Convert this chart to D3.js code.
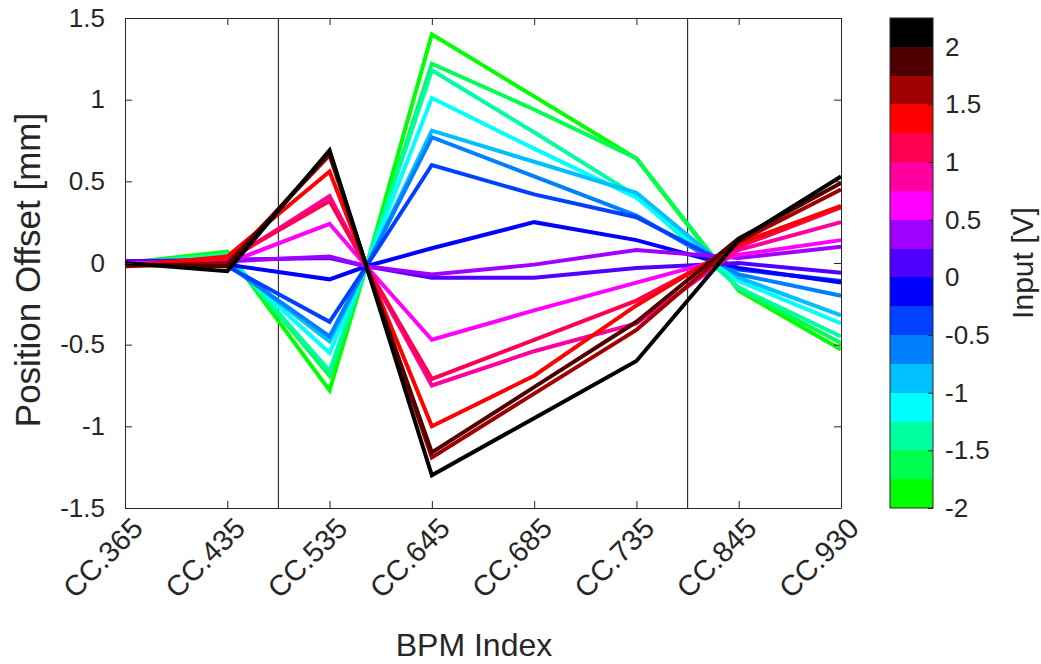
<!DOCTYPE html>
<html>
<head>
<meta charset="utf-8">
<script src="https://cdn.jsdelivr.net/npm/d3@7"></script>
<style>
  html, body { margin: 0; padding: 0; background: #fff; }
  svg { display: block; }
  text { font-family: "Liberation Sans", Arial, Helvetica, sans-serif; fill: #262626; }
</style>
</head>
<body>
<svg id="chart" width="1041" height="664"></svg>
<script>
// ---------------- data ----------------
const categories = ["CC.365", "CC.435", "CC.535", "CC.645", "CC.685", "CC.735", "CC.845", "CC.930"];
const tickPositions = [1, 2, 3, 4, 5, 6, 7, 8];
// sample positions of every trace (3.36 = unlabelled reference BPM where all traces are zeroed)
const xPositions = [1, 2, 3, 3.36, 4, 5, 6, 7, 8];
const separators = [2.5, 6.5];
const yTicks = [-1.5, -1, -0.5, 0, 0.5, 1, 1.5];
const cbTicks = [-2, -1.5, -1, -0.5, 0, 0.5, 1, 1.5, 2];
const inputs = [-2, -1.75, -1.5, -1.25, -1, -0.75, -0.5, -0.25, 0, 0.25, 0.5, 0.75, 1, 1.25, 1.5, 1.75, 2];
const cmapColors = ["#00ff00", "#00ff50", "#00ffa0", "#00ffff", "#00c0ff", "#0080ff", "#0040ff", "#0000ff",
                    "#5000ff", "#a000ff", "#ff00ff", "#ff00a0", "#ff0050", "#ff0000", "#a00000", "#500000", "#000000"];

const vM200 = [0.00, 0.07, -0.78, -0.02, 1.40, 1.02, 0.64, -0.17, -0.53];
const vM175 = [-0.01, 0.06, -0.69, -0.02, 1.22, 0.94, 0.64, -0.16, -0.49];
const vM150 = [0.00, 0.05, -0.66, -0.02, 1.18, 0.80, 0.41, -0.15, -0.45];
const vM125 = [0.01, 0.02, -0.55, -0.02, 1.01, 0.70, 0.40, -0.11, -0.37];
const vM100 = [0.01, 0.00, -0.48, -0.02, 0.81, 0.62, 0.43, -0.09, -0.32];
const vM075 = [0.00, -0.01, -0.45, -0.02, 0.77, 0.53, 0.29, -0.07, -0.20];
const vM050 = [0.00, -0.02, -0.36, -0.02, 0.60, 0.42, 0.28, -0.04, -0.11];
const vM025 = [0.01, -0.01, -0.10, -0.02, 0.09, 0.25, 0.14, -0.03, -0.12];
const vP000 = [0.01, 0.02, 0.03, -0.02, -0.09, -0.09, -0.03, 0.00, -0.06];
const vP025 = [0.00, 0.01, 0.04, -0.02, -0.07, -0.01, 0.08, 0.03, 0.10];
const vP050 = [0.00, 0.00, 0.24, -0.02, -0.47, -0.29, -0.12, 0.05, 0.14];
const vP075 = [-0.01, 0.01, 0.41, -0.02, -0.75, -0.54, -0.37, 0.08, 0.25];
const vP100 = [-0.01, 0.02, 0.38, -0.02, -0.71, -0.47, -0.23, 0.10, 0.34];
const vP125 = [-0.02, 0.04, 0.56, -0.02, -1.00, -0.69, -0.26, 0.12, 0.35];
const vP150 = [-0.02, 0.00, 0.66, -0.02, -1.19, -0.80, -0.41, 0.13, 0.45];
const vP175 = [-0.01, -0.02, 0.68, -0.02, -1.16, -0.76, -0.36, 0.15, 0.49];
const vP200 = [0.00, -0.05, 0.69, -0.02, -1.30, -0.95, -0.60, 0.14, 0.53];
const seriesValues = [vM200, vM175, vM150, vM125, vM100, vM075, vM050, vM025, vP000,
                      vP025, vP050, vP075, vP100, vP125, vP150, vP175, vP200];

// ---------------- layout ----------------
const svg = d3.select("#chart");
const M = { left: 125, right: 841, top: 18, bottom: 508 };
const CB = { left: 890, right: 933, top: 18, bottom: 508 };
const ink = "#262626";
const fontFam = '"Liberation Sans", Arial, Helvetica, sans-serif';
const fmt = d => String(d);

const x = d3.scaleLinear().domain([1, 8]).range([M.left, M.right]);
const y = d3.scaleLinear().domain([-1.5, 1.5]).range([M.bottom, M.top]);
const color = d3.scaleQuantize().domain([-2.125, 2.125]).range(cmapColors);
const cbY = d3.scaleLinear().domain([-2, 2.25]).range([CB.bottom, CB.top]);

// separators
svg.append("g").selectAll("line").data(separators).join("line")
  .attr("x1", d => x(d)).attr("x2", d => x(d))
  .attr("y1", M.top).attr("y2", M.bottom)
  .attr("stroke", "#333").attr("stroke-width", 1.2);

// traces
const line = d3.line().x((d, i) => x(xPositions[i])).y(d => y(d));
svg.append("g").selectAll("path").data(inputs).join("path")
  .attr("d", (v, i) => line(seriesValues[i]))
  .attr("fill", "none")
  .attr("stroke", v => color(v))
  .attr("stroke-width", 4)
  .attr("stroke-linejoin", "miter");

// axes
const fs = 26;
const yAxis = svg.append("g").attr("transform", `translate(${M.left},0)`)
  .call(d3.axisLeft(y).tickValues(yTicks).tickFormat(fmt).tickSizeInner(-7).tickSizeOuter(0).tickPadding(20));
const yAxisR = svg.append("g").attr("transform", `translate(${M.right},0)`)
  .call(d3.axisRight(y).tickValues(yTicks).tickFormat("").tickSizeInner(-7).tickSizeOuter(0));
const xAxis = svg.append("g").attr("transform", `translate(0,${M.bottom})`)
  .call(d3.axisBottom(x).tickValues(tickPositions).tickFormat((d, i) => categories[i]).tickSizeInner(-7).tickSizeOuter(0));
const xAxisT = svg.append("g").attr("transform", `translate(0,${M.top})`)
  .call(d3.axisTop(x).tickValues(tickPositions).tickFormat("").tickSizeInner(-7).tickSizeOuter(0));

[yAxis, yAxisR, xAxis, xAxisT].forEach(g => {
  g.selectAll("path.domain").attr("stroke", ink).attr("stroke-width", 1);
  g.selectAll(".tick line").attr("stroke", ink).attr("stroke-width", 1);
  g.selectAll("text").attr("font-size", fs).attr("fill", ink).style("font-family", fontFam);
});
xAxis.selectAll(".tick text")
  .attr("font-size", 29)
  .attr("text-anchor", "end")
  .attr("y", 0).attr("dy", "0.35em")
  .attr("transform", "translate(12,15) rotate(-45)");

// axis titles
svg.append("text").attr("x", 474).attr("y", 656).attr("text-anchor", "middle")
  .attr("font-size", 32).text("BPM Index");
svg.append("text").attr("transform", `translate(40,270) rotate(-90)`).attr("text-anchor", "middle")
  .attr("font-size", 35).text("Position Offset [mm]");

// colorbar
const bands = cmapColors.map((c, i) => ({ c, lo: -2 + i * 0.25, hi: -2 + (i + 1) * 0.25 }));
svg.append("g").selectAll("rect").data(bands).join("rect")
  .attr("x", CB.left).attr("width", CB.right - CB.left)
  .attr("y", d => cbY(d.hi)).attr("height", d => cbY(d.lo) - cbY(d.hi))
  .attr("fill", d => d.c).attr("shape-rendering", "crispEdges");
svg.append("rect").attr("x", CB.left).attr("y", CB.top)
  .attr("width", CB.right - CB.left).attr("height", CB.bottom - CB.top)
  .attr("fill", "none").attr("stroke", ink).attr("stroke-width", 1);
const cbAxis = svg.append("g").attr("transform", `translate(${CB.right},0)`)
  .call(d3.axisRight(cbY).tickValues(cbTicks).tickFormat(fmt).tickSizeInner(-5).tickSizeOuter(0).tickPadding(12));
cbAxis.select("path.domain").remove();
cbAxis.selectAll(".tick line").attr("stroke", ink);
cbAxis.selectAll("text").attr("font-size", fs).attr("fill", ink).style("font-family", fontFam);
svg.append("text").attr("transform", `translate(1033,263) rotate(-90)`).attr("text-anchor", "middle")
  .attr("font-size", 30).text("Input [V]");
</script>
</body>
</html>
